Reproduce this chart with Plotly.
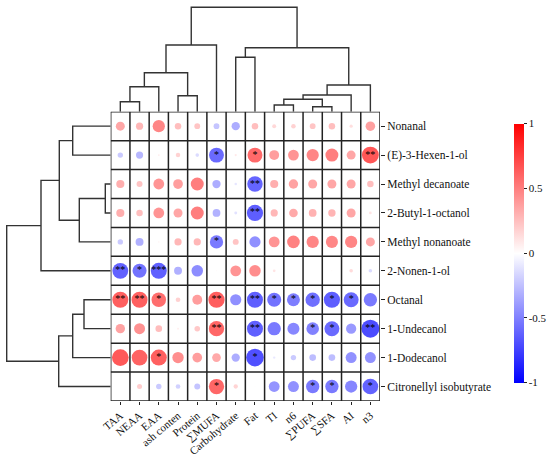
import plotly.graph_objects as go

cols = ["TAA", "NEAA", "EAA", "ash conten", "Protein", "∑MUFA", "Carbohydrate",
        "Fat", "TI", "n6", "∑PUFA", "∑SFA", "AI", "n3"]
rows = ["Nonanal", "(E)-3-Hexen-1-ol", "Methyl decanoate", "2-Butyl-1-octanol",
        "Methyl nonanoate", "2-Nonen-1-ol", "Octanal", "1-Undecanol", "1-Dodecanol",
        "Citronellyl isobutyrate"]

# correlation values per row (columns in the order of `cols`)
r_nonanal   = [0.50, 0.40, 0.68, 0.36, 0.32, -0.32, -0.46, 0.36, 0.22, 0.25, 0.32, 0.36, 0.18, 0.53]
r_hexenol   = [-0.30, -0.40, 0.10, 0.25, -0.20, -0.83, 0.12, 0.83, 0.55, 0.60, 0.68, 0.72, 0.50, 0.94]
r_mdec      = [0.45, 0.33, 0.60, 0.54, 0.72, -0.46, -0.14, -0.86, 0.45, 0.52, 0.50, 0.50, 0.50, 0.36]
r_butyl     = [0.45, 0.36, 0.60, 0.50, 0.72, -0.43, -0.16, -0.90, 0.40, 0.48, 0.43, 0.41, 0.50, 0.15]
r_mnon      = [-0.30, -0.44, 0.08, 0.40, 0.40, -0.74, 0.33, -0.62, 0.60, 0.70, 0.68, 0.67, 0.68, 0.50]
r_nonenol   = [-0.88, -0.78, -0.89, -0.44, -0.64, 0.05, 0.60, 0.64, 0.15, 0.0, 0.0, 0.05, 0.20, -0.20]
r_octanal   = [0.89, 0.89, 0.81, 0.26, 0.55, 0.90, -0.62, -0.89, -0.78, -0.72, -0.80, -0.90, -0.83, -0.74]
r_undecanol = [0.52, 0.61, 0.37, 0.10, 0.31, 0.85, 0.0, -0.89, -0.74, -0.67, -0.70, -0.83, -0.57, -1.00]
r_dodecanol = [0.93, 0.87, 0.89, 0.63, 0.54, 0.48, -0.46, -0.98, -0.13, -0.30, -0.37, -0.37, -0.61, -0.61]
r_citro     = [0.0, 0.28, -0.30, -0.26, -0.33, 0.85, 0.24, 0.02, -0.60, -0.61, -0.74, -0.74, -0.68, -0.87]

# significance marks per row
s_nonanal   = ["", "", "", "", "", "", "", "", "", "", "", "", "", ""]
s_hexenol   = ["", "", "", "", "", "*", "", "*", "", "", "", "", "", "**"]
s_mdec      = ["", "", "", "", "", "", "", "**", "", "", "", "", "", ""]
s_butyl     = ["", "", "", "", "", "", "", "**", "", "", "", "", "", ""]
s_mnon      = ["", "", "", "", "", "*", "", "", "", "", "", "", "", ""]
s_nonenol   = ["**", "*", "***", "", "", "", "", "", "", "", "", "", "", ""]
s_octanal   = ["**", "**", "*", "", "", "**", "", "**", "*", "*", "*", "*", "*", ""]
s_undecanol = ["", "", "", "", "", "**", "", "**", "", "", "*", "*", "", "**"]
s_dodecanol = ["", "", "*", "", "", "", "", "*", "", "", "", "", "", ""]
s_citro     = ["", "", "", "", "", "*", "", "", "", "", "*", "*", "", "*"]

R = [r_nonanal, r_hexenol, r_mdec, r_butyl, r_mnon, r_nonenol, r_octanal,
     r_undecanol, r_dodecanol, r_citro]
S = [s_nonanal, s_hexenol, s_mdec, s_butyl, s_mnon, s_nonenol, s_octanal,
     s_undecanol, s_dodecanol, s_citro]

# dendrogram merges: (child a, child b, height); children index leaves first, then merges
col_merges = [(0, 1, 10), (3, 4, 16), (14, 2, 25), (16, 15, 39), (17, 5, 66.7),
              (6, 7, 54.4), (8, 9, 6.7), (10, 11, 5), (20, 21, 12.4), (22, 12, 16.7),
              (23, 13, 26.7), (19, 24, 64), (18, 25, 104.4)]
row_merges = [(0, 1, 38), (2, 3, 5.4), (11, 4, 31.4), (10, 12, 51.4), (13, 5, 69.7),
              (6, 7, 26.7), (15, 8, 38), (16, 9, 52), (14, 17, 104)]


def dendro_lines(n, merges):
    pos = list(range(n))
    hgt = [0.0] * n
    P, H = [], []
    for a, b, h in merges:
        P += [pos[a], pos[a], pos[b], pos[b], None]
        H += [hgt[a], h, h, hgt[b], None]
        pos.append((pos[a] + pos[b]) / 2)
        hgt.append(h)
    return P, H


W, Hpx = 550, 460
gx0, gx1, gy0, gy1 = 110.7, 380.0, 111.7, 401.0
xd = [gx0 / W, gx1 / W]
yd = [1 - gy1 / Hpx, 1 - gy0 / Hpx]

nr, nc = len(rows), len(cols)
xs, ys, vs, sz, st = [], [], [], [], []
for i in range(nr):
    for j in range(nc):
        xs.append(j)
        ys.append(i)
        vs.append(R[i][j])
        sz.append(18 * abs(R[i][j]))
        st.append(S[i][j])

fig = go.Figure()
fig.add_trace(go.Scatter(
    x=xs, y=ys, mode="markers",
    marker=dict(size=sz, color=vs, cmin=-1, cmax=1,
                colorscale=[[0, "rgb(0,0,255)"], [0.5, "rgb(255,255,255)"], [1, "rgb(255,0,0)"]],
                line=dict(width=0),
                colorbar=dict(x=514 / W, xanchor="left", xpad=0, ypad=0,
                              y=1 - 253 / Hpx, yanchor="middle",
                              len=259.4 / Hpx, thickness=10.3, outlinewidth=0,
                              tickvals=[1, 0.5, 0, -0.5, -1],
                              ticktext=["1", "0.5", "0", "-0.5", "-1"],
                              ticks="outside", ticklen=3, tickcolor="#222",
                              tickfont=dict(family="Liberation Serif", size=11, color="#111"))),
    hoverinfo="skip", showlegend=False))
fig.add_trace(go.Scatter(
    x=xs, y=ys, mode="text", text=st,
    textfont=dict(family="Liberation Serif", size=10, color="black"),
    hoverinfo="skip", showlegend=False))

cp, ch = dendro_lines(nc, col_merges)
fig.add_trace(go.Scatter(x=cp, y=ch, mode="lines", xaxis="x2", yaxis="y2",
                         line=dict(color="#333", width=1.4), hoverinfo="skip", showlegend=False))
rp, rh = dendro_lines(nr, row_merges)
fig.add_trace(go.Scatter(x=rh, y=rp, mode="lines", xaxis="x3", yaxis="y3",
                         line=dict(color="#333", width=1.4), hoverinfo="skip", showlegend=False))

shapes = []
for j in range(nc + 1):
    shapes.append(dict(type="line", xref="x", yref="y", x0=j - 0.5, x1=j - 0.5,
                       y0=-0.5, y1=nr - 0.5, line=dict(color="#222", width=1.5)))
for i in range(nr + 1):
    shapes.append(dict(type="line", xref="x", yref="y", x0=-0.5, x1=nc - 0.5,
                       y0=i - 0.5, y1=i - 0.5, line=dict(color="#222", width=1.5)))

font = dict(family="Liberation Serif", size=11.5, color="#111")
xfont = dict(family="Liberation Serif", size=11, color="#111")
fig.update_layout(
    width=W, height=Hpx, margin=dict(l=0, r=0, t=0, b=0, autoexpand=False),
    paper_bgcolor="white", plot_bgcolor="white", shapes=shapes,
    font=font, hovermode=False,
    xaxis=dict(domain=xd, range=[-0.5, nc - 0.5], tickvals=list(range(nc)), ticktext=cols,
               tickangle=-40, ticks="outside", ticklen=3, tickcolor="#222", automargin=False,
               showgrid=False, zeroline=False, showline=False, tickfont=xfont, anchor="y"),
    yaxis=dict(domain=yd, range=[nr - 0.5, -0.5], tickvals=list(range(nr)), ticktext=rows,
               side="right", ticks="outside", ticklen=4, tickcolor="#222", automargin=False,
               showgrid=False, zeroline=False, showline=False, tickfont=font, anchor="x"),
    xaxis2=dict(domain=xd, range=[-0.5, nc - 0.5], visible=False, anchor="y2", automargin=False),
    yaxis2=dict(domain=[yd[1], 1], range=[0, gy0], visible=False, anchor="x2", automargin=False),
    xaxis3=dict(domain=[0, xd[0]], range=[gx0, 0], visible=False, anchor="y3", automargin=False),
    yaxis3=dict(domain=yd, range=[nr - 0.5, -0.5], visible=False, anchor="x3", automargin=False),
)

fig.write_html("out.html", config={"displayModeBar": False},
               post_script="document.body.style.margin='0';")
